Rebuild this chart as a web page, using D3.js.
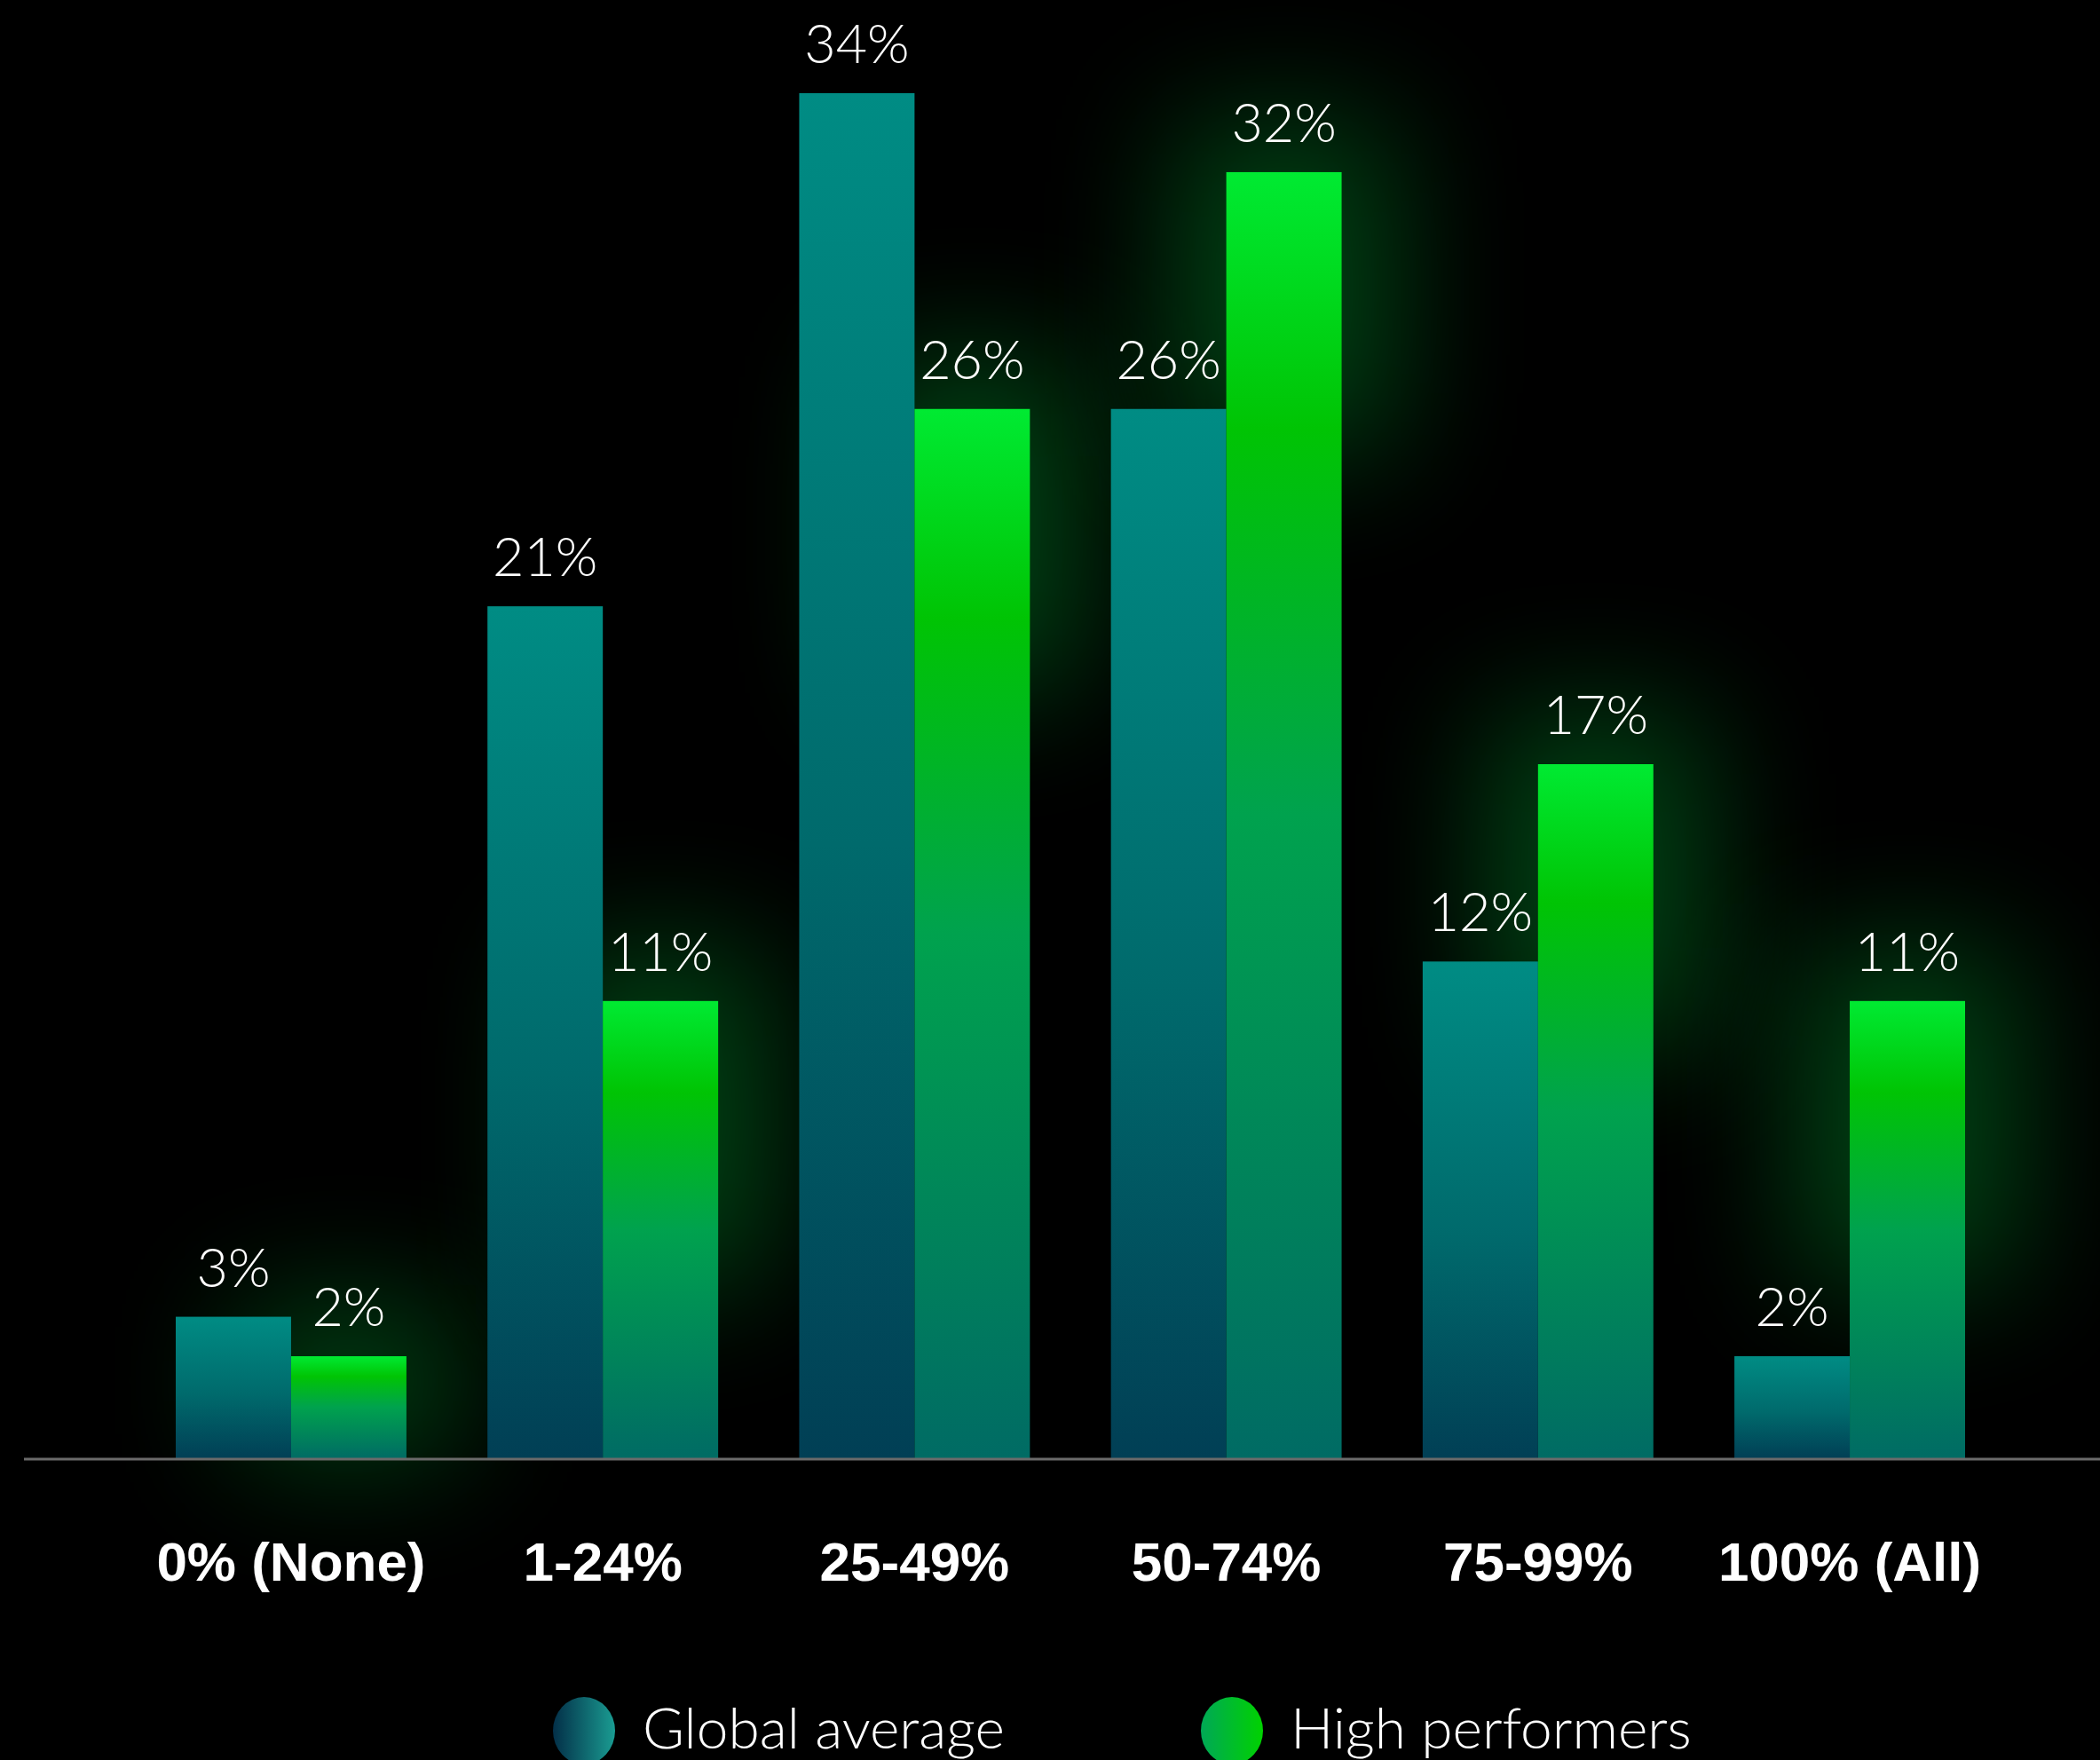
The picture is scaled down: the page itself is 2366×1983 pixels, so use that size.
<!DOCTYPE html>
<html>
<head>
<meta charset="utf-8">
<script src="https://cdn.jsdelivr.net/npm/d3@7"></script>
<style>
  html, body { margin: 0; padding: 0; background: #000; }
  svg { display: block; }
</style>
</head>
<body>
<div id="chart"></div>
<script>
const categories = ['0% (None)', '1-24%', '25-49%', '50-74%', '75-99%', '100% (All)'];
const seriesNames = ['Global average', 'High performers'];
const globalAverage = [3, 21, 34, 26, 12, 2];
const highPerformers = [2, 11, 26, 32, 17, 11];

const width = 2366
const height = 1983
const baseline = 1643

const svg = d3.select('#chart').append('svg')
    .attr('width', width)
    .attr('height', height)
    .style('background', '#000')

const defs = svg.append('defs')

// per-bar gradients
const blueGrad = defs.append('linearGradient')
    .attr('id', 'blueGrad')
    .attr('x1', 0).attr('y1', 0).attr('x2', 0).attr('y2', 1)
blueGrad.append('stop').attr('offset', '0%').attr('stop-color', '#008c84')
blueGrad.append('stop').attr('offset', '55%').attr('stop-color', '#006a6c')
blueGrad.append('stop').attr('offset', '100%').attr('stop-color', '#013f55')

const greenGrad = defs.append('linearGradient')
    .attr('id', 'greenGrad')
    .attr('x1', 0).attr('y1', 0).attr('x2', 0).attr('y2', 1)
greenGrad.append('stop').attr('offset', '0%').attr('stop-color', '#00ea32')
greenGrad.append('stop').attr('offset', '20%').attr('stop-color', '#00c404')
greenGrad.append('stop').attr('offset', '50%').attr('stop-color', '#00a24e')
greenGrad.append('stop').attr('offset', '100%').attr('stop-color', '#006b64')

const legendBlue = defs.append('linearGradient').attr('id', 'legendBlue')
legendBlue.append('stop').attr('offset', '0%').attr('stop-color', '#032f48')
legendBlue.append('stop').attr('offset', '100%').attr('stop-color', '#1a9c92')

const legendGreen = defs.append('linearGradient').attr('id', 'legendGreen')
legendGreen.append('stop').attr('offset', '0%').attr('stop-color', '#00a856')
legendGreen.append('stop').attr('offset', '100%').attr('stop-color', '#00d200')

const glow = defs.append('filter')
    .attr('id', 'glow')
    .attr('x', '-200%').attr('y', '-200%')
    .attr('width', '500%').attr('height', '500%')
glow.append('feGaussianBlur').attr('stdDeviation', 75)

// scales
const xScale = d3.scaleBand()
    .domain(categories)
    .range([198, 2214])
    .paddingInner(0.26)
    .paddingOuter(0)

const xSeries = d3.scaleBand()
    .domain(seriesNames)
    .range([0, xScale.bandwidth()])

// bars in the original start slightly below the zero line
const yScale = d3.scaleLinear()
    .domain([0, 34])
    .range([baseline - 26, 105])

const rows = categories.map((c, i) => ({
    category: c,
    values: [
        {series: seriesNames[0], value: globalAverage[i]},
        {series: seriesNames[1], value: highPerformers[i]}
    ]
}))

// soft green glow behind the high performer bars
const glows = svg.append('g').attr('class', 'glows')
glows.selectAll('rect')
    .data(rows)
    .enter()
    .append('rect')
    .attr('x', d => xScale(d.category) + xSeries(seriesNames[1]) - 60)
    .attr('y', d => yScale(d.values[1].value) - 60)
    .attr('width', xSeries.bandwidth() + 120)
    .attr('height', d => Math.min(baseline - yScale(d.values[1].value) + 60, 380))
    .attr('fill', '#00c83c')
    .attr('opacity', 0.33)
    .attr('filter', 'url(#glow)')

const groups = svg.append('g').attr('class', 'bars')
    .selectAll('g')
    .data(rows)
    .enter()
    .append('g')
    .attr('transform', d => `translate(${xScale(d.category)}, 0)`)

groups.selectAll('rect')
    .data(d => d.values)
    .enter()
    .append('rect')
    .attr('x', d => xSeries(d.series))
    .attr('y', d => yScale(d.value))
    .attr('width', xSeries.bandwidth())
    .attr('height', d => baseline - yScale(d.value))
    .attr('fill', d => d.series === seriesNames[0] ? 'url(#blueGrad)' : 'url(#greenGrad)')

groups.selectAll('text')
    .data(d => d.values)
    .enter()
    .append('text')
    .text(d => d.value + '%')
    .attr('x', d => xSeries(d.series) + xSeries.bandwidth() / 2)
    .attr('y', d => yScale(d.value) - 34)
    .attr('text-anchor', 'middle')
    .attr('fill', '#fff')
    .style('font-family', 'Lato, "Open Sans", sans-serif')
    .style('font-weight', 300)
    .style('font-size', '61px')

// zero line
svg.append('line')
    .attr('x1', 27).attr('x2', width)
    .attr('y1', baseline + 1).attr('y2', baseline + 1)
    .attr('stroke', '#6a6a6a')
    .attr('stroke-width', 3)

// category labels
const xAxis = d3.axisBottom(xScale).tickSize(0).tickPadding(0)
const xAxisG = svg.append('g')
    .attr('transform', `translate(0, ${baseline})`)
    .call(xAxis)
xAxisG.select('.domain').remove()
xAxisG.selectAll('text')
    .attr('dy', null)
    .attr('y', 138)
    .attr('fill', '#fff')
    .style('font-family', '"Liberation Sans", Arial, sans-serif')
    .style('font-weight', 700)
    .style('font-size', '62px')

// legend
const legendX = [658, 1388]
const legend = svg.append('g').attr('class', 'legend')
    .selectAll('g')
    .data(seriesNames)
    .enter()
    .append('g')
    .attr('transform', (d, i) => `translate(${legendX[i]}, 1950)`)

legend.append('ellipse')
    .attr('rx', 35)
    .attr('ry', 38)
    .attr('fill', (d, i) => i === 0 ? 'url(#legendBlue)' : 'url(#legendGreen)')

legend.append('text')
    .text(d => d)
    .attr('x', 66)
    .attr('y', 20)
    .attr('fill', '#fff')
    .style('font-family', 'Lato, "Open Sans", sans-serif')
    .style('font-weight', 300)
    .style('font-size', '64px')
</script>
</body>
</html>
